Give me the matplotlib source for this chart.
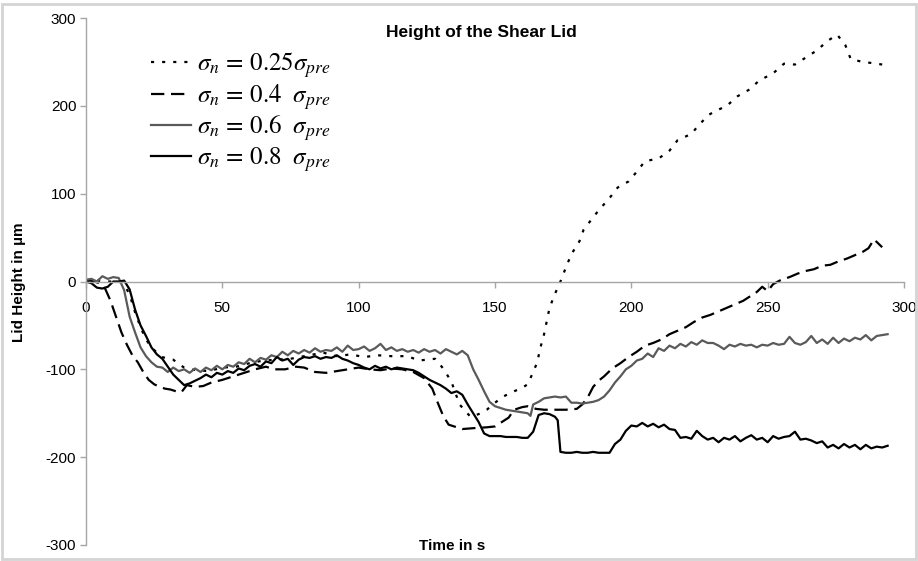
import matplotlib
matplotlib.use("Agg")
import matplotlib.pyplot as plt
from matplotlib.patches import Rectangle

plt.rcParams['font.family'] = ['Liberation Sans', 'DejaVu Sans']
plt.rcParams['mathtext.fontset'] = 'stix'
plt.rcParams['axes.unicode_minus'] = False

# sigma_n = 0.25 sigma_pre (dotted)
t_025 = [0, 4, 8, 12, 14, 16, 18, 20, 22, 24, 26, 28, 30, 32, 34, 36, 38, 41, 45, 50,
         55, 60, 65, 70, 75, 80, 87, 92, 97, 102, 107, 112, 118, 122, 125, 128, 131, 134,
         137, 141, 144, 147, 150, 153, 157, 160, 162, 164, 165.5, 166.5, 168, 169, 170,
         172, 174, 176, 178, 181, 182.5, 184.5, 188, 192, 195, 199, 202, 205, 210, 214,
         217, 222, 225, 228.5, 231.5, 235, 239, 243, 247, 252, 256, 260, 264, 268, 272,
         275.5, 278.5, 280.5, 285, 290, 292]
h_025 = [0, 1, 0, 0, -3, -15, -35, -52, -66, -75, -81, -86, -88, -89, -94, -98, -100, -101,
         -102, -98, -97, -93, -90, -89, -88, -85, -81, -85, -83, -86, -84, -85, -85, -90,
         -89, -88, -99, -114, -140, -154, -151, -146, -138, -131, -125, -121, -117, -103,
         -92, -77, -60, -45, -30, -14, 0, 16, 31, 46, 59, 67, 81, 95, 107, 114, 125, 137,
         140, 149, 161, 168, 179, 190, 195, 200, 211, 218, 229, 237, 248, 247, 255, 263,
         274, 281, 269, 253, 250, 248, 247]

# sigma_n = 0.4 sigma_pre (dashed)
t_04 = [0, 3, 5, 7, 9, 11, 13, 15, 17, 19, 21, 23, 25, 27, 29, 31, 33, 35, 37, 40, 43, 46,
        50, 54, 58, 62, 66, 69, 73, 77, 80, 84, 88, 92, 96, 100, 104, 108, 112, 116, 120,
        124, 127, 129, 131, 133, 136, 138, 142, 147, 150, 152, 155, 157, 160, 162, 165,
        168, 172, 176, 180, 182, 184, 186, 188, 190, 193, 196, 199, 202, 205, 208, 211,
        214, 217, 220, 223, 226, 229, 232, 235, 238, 241, 244, 246, 248, 250, 252, 255,
        258, 261, 264, 267, 270, 273, 276, 279, 282, 285, 287, 289, 291, 292]
h_04 = [2, 0, -2, -8, -22, -40, -58, -72, -84, -92, -103, -112, -117, -120, -122, -123,
        -125, -126, -118, -120, -119, -115, -112, -108, -104, -100, -97, -100, -100, -97,
        -98, -103, -104, -102, -100, -98, -100, -101, -99, -100, -103, -110, -122, -138,
        -153, -163, -166, -168, -167, -166, -165, -161, -155, -146, -143, -142, -145,
        -146, -146, -146, -145, -140, -132, -120, -113, -108, -99, -93, -86, -80, -73,
        -70, -66, -60, -56, -52, -46, -41, -38, -34, -30, -26, -22, -16, -12, -6, -11, -3,
        2, 5, 9, 12, 14, 18, 19, 23, 26, 30, 34, 38, 48, 42, 39]

# sigma_n = 0.6 sigma_pre (grey)
t_06 = sorted(list(range(0, 164, 2)) + [163] + list(range(164, 296, 2)))
h_06 = [2, 3, 0, 6, 3, 5, 4, -10, -40, -58, -75, -85, -92, -97, -98, -103, -98, -102,
        -100, -104, -99, -103, -98, -101, -96, -100, -95, -97, -92, -94, -88, -92, -87,
        -89, -84, -86, -80, -84, -79, -82, -78, -81, -76, -80, -78, -79, -75, -80, -73,
        -78, -77, -74, -79, -76, -71, -78, -75, -79, -77, -80, -78, -81, -77, -80, -78,
        -82, -77, -80, -83, -79, -84, -100, -112, -125, -137, -142, -144, -146, -147,
        -148, -149, -150, -153, -140, -137, -133, -132, -131, -132, -131, -138, -138,
        -139, -138, -137, -135, -131, -124, -115, -108, -100, -96, -90, -88, -82, -86,
        -76, -79, -73, -76, -71, -74, -69, -72, -67, -70, -70, -73, -77, -72, -74, -71,
        -73, -72, -75, -72, -73, -70, -72, -71, -63, -70, -72, -69, -62, -70, -66, -71,
        -64, -70, -65, -68, -64, -66, -61, -67, -62, -61, -60]

# sigma_n = 0.8 sigma_pre (black)
t_08 = sorted(list(range(0, 174, 2)) + [173] + list(range(174, 296, 2)))
h_08 = [0, -2, -7, -8, -6, 0, 0, 1, -9, -32, -50, -62, -75, -83, -88, -97, -106, -112,
        -118, -116, -113, -110, -106, -109, -104, -106, -102, -104, -99, -101, -96, -94,
        -97, -91, -93, -86, -90, -88, -95, -89, -86, -87, -85, -88, -86, -87, -84, -88,
        -90, -93, -95, -98, -100, -96, -99, -97, -100, -98, -99, -100, -101, -104, -108,
        -112, -115, -118, -122, -127, -125, -129, -140, -150, -160, -173, -176, -176,
        -176, -177, -177, -177, -178, -178, -171, -152, -150, -151, -154, -158, -194,
        -195, -195, -194, -195, -195, -194, -195, -195, -195, -185, -180, -170,
        -164, -165, -161, -165, -162, -166, -163, -168, -169, -178, -177, -179, -170,
        -176, -180, -178, -183, -178, -180, -176, -182, -178, -175, -180, -178, -183,
        -176, -179, -177, -176, -171, -180, -179, -181, -184, -182, -189, -186, -190,
        -185, -189, -186, -191, -186, -190, -188, -189, -187]

labels = [r'$\sigma_n\/ =\/ 0.25\sigma_{pre}$',
          r'$\sigma_n\/ =\/ 0.4\ \ \sigma_{pre}$',
          r'$\sigma_n\/ =\/ 0.6\ \ \sigma_{pre}$',
          r'$\sigma_n\/ =\/ 0.8\ \ \sigma_{pre}$']

W, H = 918, 561
fig = plt.figure(figsize=(W / 100, H / 100), dpi=100)
ax = fig.add_axes([86 / W, 1 - 545 / H, (904 - 86) / W, (545 - 18) / H])

ax.plot(t_025, h_025, color='black', lw=1.6, linestyle=(0, (1.4, 3.6)), label=labels[0])
ax.plot(t_04, h_04, color='black', lw=1.6, linestyle=(0, (6, 3)), label=labels[1])
ax.plot(t_06, h_06, color='#5a5a5a', lw=1.6, label=labels[2])
ax.plot(t_08, h_08, color='black', lw=1.6, label=labels[3])

ax.set_xlim(0, 300)
ax.set_ylim(-300, 300)
ax.set_xticks([0, 50, 100, 150, 200, 250, 300])
ax.set_yticks([-300, -200, -100, 0, 100, 200, 300])

for side in ['top', 'right']:
    ax.spines[side].set_visible(False)
ax.spines['bottom'].set_position(('data', 0))
ax.spines['left'].set_position(('data', 0))
for side in ['bottom', 'left']:
    ax.spines[side].set_color('#a6a6a6')
    ax.spines[side].set_linewidth(1.0)
ax.tick_params(axis='both', direction='out', length=4, width=1.0, color='#a6a6a6',
               labelsize=11, labelcolor='black')
ax.tick_params(axis='x', pad=10)
ax.tick_params(axis='y', pad=3)

fig.text(481 / W, 1 - 32 / H, 'Height of the Shear Lid', ha='center', va='center',
         fontsize=12.5, fontweight='bold')
fig.text(452 / W, 1 - 546 / H, 'Time in s', ha='center', va='center',
         fontsize=11, fontweight='bold')
fig.text(19 / W, 1 - 282 / H, 'Lid Height in µm', ha='center', va='center',
         rotation=90, fontsize=11, fontweight='bold')

leg = ax.legend(loc='upper left', bbox_to_anchor=(151 / W, 1 - 50 / H),
                bbox_transform=fig.transFigure, frameon=False, fontsize=18,
                handlelength=1.6, handletextpad=0.25, labelspacing=0.08,
                borderaxespad=0, borderpad=0)

fig.add_artist(Rectangle((2 / W, 2 / H), 1 - 4 / W, 1 - 6 / H, transform=fig.transFigure,
                         fill=False, edgecolor='#d4d4d4', lw=2))

fig.savefig('out.png', dpi=100)
